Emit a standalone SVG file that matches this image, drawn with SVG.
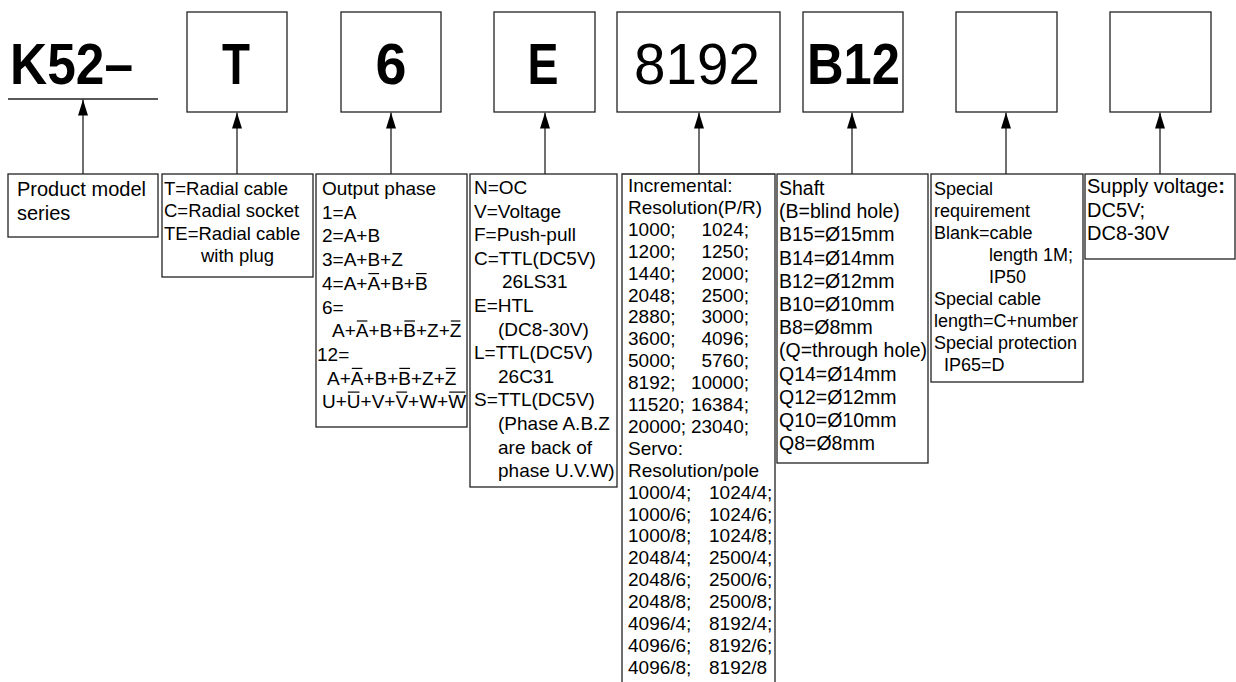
<svg xmlns="http://www.w3.org/2000/svg" width="1236" height="682" viewBox="0 0 1236 682">
<style>
.bx{fill:none;stroke:#222;stroke-width:1.3}
.ln{stroke:#222;stroke-width:1.3;fill:none}
.ob{stroke:#000;stroke-width:1.2}
.big{font-family:"Liberation Sans",Arial,sans-serif;font-size:57px;font-weight:bold;fill:#000}
.t{font-family:"Liberation Sans",Arial,sans-serif;font-size:19px;fill:#000}
</style>
<defs>
<marker id="ah" markerWidth="16" markerHeight="10" refX="16" refY="5" orient="auto" markerUnits="userSpaceOnUse" viewBox="0 0 16 10">
<path d="M0,0 L16,5 L0,10 Z" fill="#000"/>
</marker>
</defs>
<rect width="1236" height="682" fill="#fff"/>

<g id="code-k52">
<text class="big" x="10" y="84" textLength="123" lengthAdjust="spacingAndGlyphs">K52–</text>
<line class="ln" x1="8" y1="99" x2="158" y2="99"/>
</g>
<g id="code-t"><rect class="bx" x="187" y="12" width="100" height="100"/><text class="big" x="236" y="84" text-anchor="middle" textLength="28" lengthAdjust="spacingAndGlyphs">T</text></g>
<g id="code-6"><rect class="bx" x="341" y="12" width="100" height="100"/><text class="big" x="391" y="84" text-anchor="middle" textLength="31" lengthAdjust="spacingAndGlyphs">6</text></g>
<g id="code-e"><rect class="bx" x="494" y="12" width="101" height="100"/><text class="big" x="543" y="84" text-anchor="middle" textLength="31" lengthAdjust="spacingAndGlyphs">E</text></g>
<g id="code-8192"><rect class="bx" x="617" y="12" width="163" height="100"/><text class="big" x="634" y="84" style="font-weight:normal" textLength="126" lengthAdjust="spacingAndGlyphs">8192</text></g>
<g id="code-b12"><rect class="bx" x="803" y="12" width="100" height="100"/><text class="big" x="807" y="84" textLength="93" lengthAdjust="spacingAndGlyphs">B12</text></g>
<g id="code-empty1"><rect class="bx" x="956" y="12" width="101" height="100"/></g>
<g id="code-empty2"><rect class="bx" x="1110" y="12" width="101" height="100"/></g>

<g id="connectors">
<line class="ln" x1="83" y1="174" x2="83" y2="99.5" marker-end="url(#ah)"/>
<line class="ln" x1="237" y1="174" x2="237" y2="112.5" marker-end="url(#ah)"/>
<line class="ln" x1="391" y1="174" x2="391" y2="112.5" marker-end="url(#ah)"/>
<line class="ln" x1="545" y1="174" x2="545" y2="112.5" marker-end="url(#ah)"/>
<line class="ln" x1="699" y1="174" x2="699" y2="112.5" marker-end="url(#ah)"/>
<line class="ln" x1="852" y1="174" x2="852" y2="112.5" marker-end="url(#ah)"/>
<line class="ln" x1="1006" y1="174" x2="1006" y2="112.5" marker-end="url(#ah)"/>
<line class="ln" x1="1160" y1="174" x2="1160" y2="112.5" marker-end="url(#ah)"/>
</g>

<g id="desc-series">
<rect class="bx" x="8" y="174" width="150" height="63"/>
<text class="t" style="font-size:20px" x="17" y="196">Product model</text>
<text class="t" style="font-size:20px" x="17" y="220">series</text>
</g>

<g id="desc-outlet">
<rect class="bx" x="162" y="174" width="151" height="103"/>
<text class="t" style="font-size:18.5px" x="164" y="195">T=Radial cable</text>
<text class="t" style="font-size:18.5px" x="164" y="217.3">C=Radial socket</text>
<text class="t" style="font-size:18.5px" x="164" y="239.6">TE=Radial cable</text>
<text class="t" style="font-size:18.5px" x="201" y="261.9">with plug</text>
</g>

<g id="desc-phase">
<rect class="bx" x="316" y="174" width="151" height="253"/>
<text class="t" x="322" y="195">Output phase</text>
<text class="t" x="322" y="218.7">1=A</text>
<text class="t" x="322" y="242.4">2=A+B</text>
<text class="t" x="322" y="266.1">3=A+B+Z</text>
<text class="t" x="322" y="289.8">4=A+A+B+B</text>
<text class="t" x="322" y="313.5">6=</text>
<text class="t" x="332" y="337.2">A+A+B+B+Z+Z</text>
<text class="t" x="317" y="360.9">12=</text>
<text class="t" x="327" y="384.6">A+A+B+B+Z+Z</text>
<text class="t" x="322" y="408.3">U+U+V+V+W+W</text>
<line class="ob" x1="368.4" y1="273.6" x2="379.1" y2="273.6"/>
<line class="ob" x1="416" y1="273.6" x2="426.6" y2="273.6"/>
<line class="ob" x1="356.8" y1="321" x2="367.4" y2="321"/>
<line class="ob" x1="404.3" y1="321" x2="415" y2="321"/>
<line class="ob" x1="450.8" y1="321" x2="460.4" y2="321"/>
<line class="ob" x1="351.8" y1="368.4" x2="362.4" y2="368.4"/>
<line class="ob" x1="399.3" y1="368.4" x2="410" y2="368.4"/>
<line class="ob" x1="445.8" y1="368.4" x2="455.4" y2="368.4"/>
<line class="ob" x1="347.8" y1="392.1" x2="359.5" y2="392.1"/>
<line class="ob" x1="396.4" y1="392.1" x2="407.1" y2="392.1"/>
<line class="ob" x1="449.2" y1="392.1" x2="465.2" y2="392.1"/>
</g>

<g id="desc-output">
<rect class="bx" x="470" y="174" width="147" height="313"/>
<text class="t" x="474" y="194">N=OC</text>
<text class="t" x="474" y="217.6">V=Voltage</text>
<text class="t" x="474" y="241.2">F=Push-pull</text>
<text class="t" x="474" y="264.8">C=TTL(DC5V)</text>
<text class="t" x="502" y="288.4">26LS31</text>
<text class="t" x="474" y="312">E=HTL</text>
<text class="t" x="498" y="335.6">(DC8-30V)</text>
<text class="t" x="474" y="359.2">L=TTL(DC5V)</text>
<text class="t" x="498" y="382.8">26C31</text>
<text class="t" x="474" y="406.4">S=TTL(DC5V)</text>
<text class="t" x="498" y="430">(Phase A.B.Z</text>
<text class="t" x="498" y="453.6">are back of</text>
<text class="t" x="498" y="477.2">phase U.V.W)</text>
</g>

<g id="desc-resolution">
<path class="ln" d="M622,683 V174 H775 V683"/>
<g class="t">
<text x="628" y="192">Incremental:</text>
<text x="628" y="213.9">Resolution(P/R)</text>
<text x="628" y="235.8">1000;</text><text x="749" y="235.8" text-anchor="end">1024;</text>
<text x="628" y="257.7">1200;</text><text x="749" y="257.7" text-anchor="end">1250;</text>
<text x="628" y="279.6">1440;</text><text x="749" y="279.6" text-anchor="end">2000;</text>
<text x="628" y="301.5">2048;</text><text x="749" y="301.5" text-anchor="end">2500;</text>
<text x="628" y="323.4">2880;</text><text x="749" y="323.4" text-anchor="end">3000;</text>
<text x="628" y="345.3">3600;</text><text x="749" y="345.3" text-anchor="end">4096;</text>
<text x="628" y="367.2">5000;</text><text x="749" y="367.2" text-anchor="end">5760;</text>
<text x="628" y="389.1">8192;</text><text x="749" y="389.1" text-anchor="end">10000;</text>
<text x="628" y="411">11520;</text><text x="749" y="411" text-anchor="end">16384;</text>
<text x="628" y="432.9">20000;</text><text x="749" y="432.9" text-anchor="end">23040;</text>
<text x="628" y="454.8">Servo:</text>
<text x="628" y="476.7">Resolution/pole</text>
<text x="628" y="498.6">1000/4;</text><text x="709" y="498.6">1024/4;</text>
<text x="628" y="520.5">1000/6;</text><text x="709" y="520.5">1024/6;</text>
<text x="628" y="542.4">1000/8;</text><text x="709" y="542.4">1024/8;</text>
<text x="628" y="564.3">2048/4;</text><text x="709" y="564.3">2500/4;</text>
<text x="628" y="586.2">2048/6;</text><text x="709" y="586.2">2500/6;</text>
<text x="628" y="608.1">2048/8;</text><text x="709" y="608.1">2500/8;</text>
<text x="628" y="630">4096/4;</text><text x="709" y="630">8192/4;</text>
<text x="628" y="651.9">4096/6;</text><text x="709" y="651.9">8192/6;</text>
<text x="628" y="673.8">4096/8;</text><text x="709" y="673.8">8192/8</text>
</g>
</g>

<g id="desc-shaft">
<rect class="bx" x="777" y="174" width="151" height="289"/>
<g class="t" style="font-size:19.5px">
<text x="779" y="195">Shaft</text>
<text x="779" y="218.2">(B=blind hole)</text>
<text x="779" y="241.4">B15=Ø15mm</text>
<text x="779" y="264.6">B14=Ø14mm</text>
<text x="779" y="287.8">B12=Ø12mm</text>
<text x="779" y="311">B10=Ø10mm</text>
<text x="779" y="334.2">B8=Ø8mm</text>
<text x="779" y="357.4">(Q=through hole)</text>
<text x="779" y="380.6">Q14=Ø14mm</text>
<text x="779" y="403.8">Q12=Ø12mm</text>
<text x="779" y="427">Q10=Ø10mm</text>
<text x="779" y="450.2">Q8=Ø8mm</text>
</g>
</g>

<g id="desc-special">
<rect class="bx" x="931" y="174" width="152" height="208"/>
<g class="t" style="font-size:18px">
<text x="934" y="195">Special</text>
<text x="934" y="217">requirement</text>
<text x="934" y="239">Blank=cable</text>
<text x="989" y="261">length 1M;</text>
<text x="989" y="283">IP50</text>
<text x="934" y="305">Special cable</text>
<text x="934" y="327">length=C+number</text>
<text x="934" y="349">Special protection</text>
<text x="944" y="371">IP65=D</text>
</g>
</g>

<g id="desc-voltage">
<rect class="bx" x="1085" y="174" width="150" height="85"/>
<g class="t" style="font-size:20px">
<text x="1087" y="193">Supply voltage<tspan style="font-weight:bold">:</tspan></text>
<text x="1087" y="216.5">DC5V;</text>
<text x="1087" y="240">DC8-30V</text>
</g>
</g>
</svg>
